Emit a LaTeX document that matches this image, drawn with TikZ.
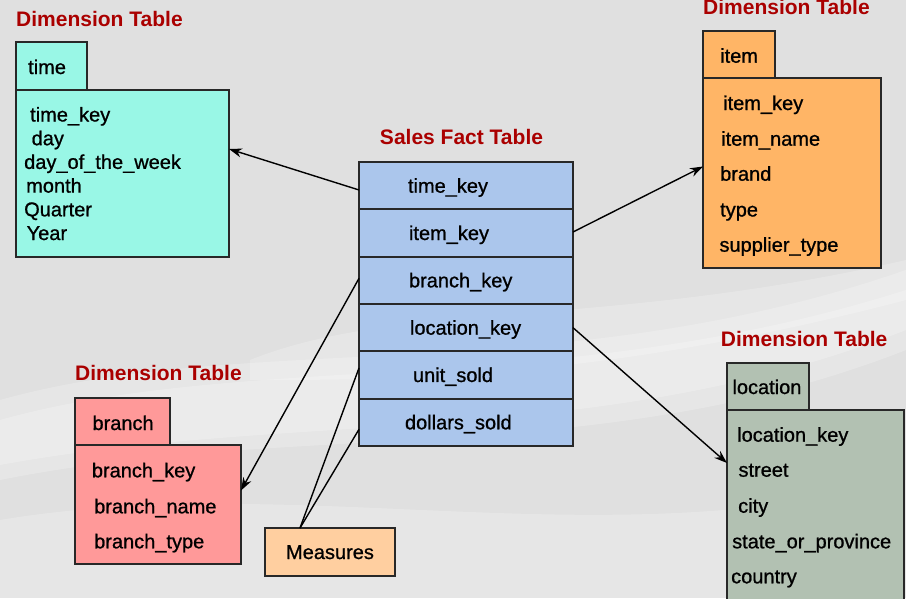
\documentclass[tikz,border=0pt]{standalone}
\usepackage{fontspec}
\setmainfont{Liberation Sans}
\newfontfamily\fieldfont[FakeBold=0.9]{Liberation Sans}
\usetikzlibrary{arrows.meta,positioning}
\usepackage{xcolor}
\definecolor{TimeFill}{RGB}{153,247,230}
\definecolor{FactFill}{RGB}{171,198,236}
\definecolor{ItemFill}{RGB}{255,181,102}
\definecolor{BranchFill}{RGB}{255,153,153}
\definecolor{LocFill}{RGB}{178,193,178}
\definecolor{MeasFill}{RGB}{255,207,160}
\definecolor{TitleRed}{RGB}{170,0,0}
\definecolor{EdgeGray}{RGB}{40,40,40}
\definecolor{BgGray}{RGB}{224,224,224}
\tikzset{
  tbox/.style={rectangle,draw=EdgeGray,line width=1.8pt,anchor=north west,
               inner sep=0pt,outer sep=0pt},
  ttitle/.style={anchor=base west,inner sep=0pt,text=TitleRed,
                 font=\fontsize{21}{24}\selectfont\bfseries},
  tfield/.style={anchor=base west,inner sep=0pt,font=\fontsize{20}{24}\fieldfont},
  frow/.style={rectangle,draw=EdgeGray,line width=1.8pt,fill=FactFill,outer sep=0pt,
               minimum width=214pt,minimum height=47.33pt,text width=116pt,
               inner xsep=49pt,text height=14pt,text depth=0pt,align=left,
               font=\fontsize{20}{24}\fieldfont},
  fkey/.style={-{Stealth[length=13pt,width=9pt]},line width=1.4pt,black},
  fline/.style={line width=1.4pt,black},
  swoosh/.style={white,opacity=0.22},
}

\begin{document}
\begin{tikzpicture}[x=1pt,y=-1pt]
  \clip (0,0) rectangle (906,598);
  \fill[BgGray] (0,0) rectangle (906,598);
  % soft background bands
  \fill[swoosh] (0,400) .. controls (250,330) and (560,390) .. (906,270)
    -- (906,350) .. controls (600,470) and (300,420) .. (0,480) -- cycle;
  \fill[swoosh] (0,420) .. controls (250,350) and (560,400) .. (906,290)
    -- (906,330) .. controls (600,450) and (300,410) .. (0,465) -- cycle;
  \fill[swoosh] (250,360) .. controls (400,300) and (600,330) .. (906,260)
    -- (906,300) .. controls (600,380) and (400,380) .. (250,380) -- cycle;
  \fill[swoosh] (0,520) .. controls (300,470) and (600,560) .. (906,480)
    -- (906,598) -- (0,598) -- cycle;
  %
  % time
  \node[ttitle] (ttime) at (16,26) {Dimension Table};
  \node[tbox,fill=TimeFill,minimum width=71pt,minimum height=48pt] (timetab) at (16,42) {};
  \node[tbox,fill=TimeFill,minimum width=213pt,minimum height=167pt] (timebody) at (16,90) {};
  \node[tfield] (timename) at (28,74) {time};
  \node[tfield] (time1) at (30,121.5) {time\_key};
  \node[tfield] (time2) at (31.5,145.2) {day};
  \node[tfield] (time3) at (24,168.9) {day\_of\_the\_week};
  \node[tfield] (time4) at (26,192.6) {month};
  \node[tfield] (time5) at (24,216.3) {Quarter};
  \node[tfield] (time6) at (26.5,240) {Year};
  %
  % item
  \node[ttitle] (titem) at (703,14) {Dimension Table};
  \node[tbox,fill=ItemFill,minimum width=72pt,minimum height=47pt] (itemtab) at (703,31) {};
  \node[tbox,fill=ItemFill,minimum width=178pt,minimum height=190pt] (itembody) at (703,78) {};
  \node[tfield] (itemname) at (720,62.7) {item};
  \node[tfield] (item1) at (723,110) {item\_key};
  \node[tfield] (item2) at (721,145.7) {item\_name};
  \node[tfield] (item3) at (720,180.7) {brand};
  \node[tfield] (item4) at (720,216.5) {type};
  \node[tfield] (item5) at (719.3,251.7) {supplier\_type};
  %
  % branch
  \node[ttitle] (tbranch) at (75,380.7) {Dimension Table};
  \node[tbox,fill=BranchFill,minimum width=95pt,minimum height=47pt] (branchtab) at (75,398) {};
  \node[tbox,fill=BranchFill,minimum width=166pt,minimum height=119pt] (branchbody) at (75,445) {};
  \node[tfield] (branchname) at (92.3,430) {branch};
  \node[tfield] (branch1) at (91.7,477.3) {branch\_key};
  \node[tfield] (branch2) at (94,513.3) {branch\_name};
  \node[tfield] (branch3) at (94,548.3) {branch\_type};
  %
  % location
  \node[ttitle] (tloc) at (720.7,346) {Dimension Table};
  \node[tbox,fill=LocFill,minimum width=82pt,minimum height=47pt] (loctab) at (727,363) {};
  \node[tbox,fill=LocFill,minimum width=177pt,minimum height=196pt] (locbody) at (727,410) {};
  \node[tfield] (locname) at (732.3,394) {location};
  \node[tfield] (loc1) at (737,441.7) {location\_key};
  \node[tfield] (loc2) at (738.3,476.7) {street};
  \node[tfield] (loc3) at (738,512.7) {city};
  \node[tfield] (loc4) at (732,548.3) {state\_or\_province};
  \node[tfield] (loc5) at (731,583.3) {country};
  %
  % fact table
  \node[ttitle,anchor=base] (tfact) at (461.5,144) {Sales Fact Table};
  \node[frow,anchor=north west] (f1) at (359,162) {time\_key};
  \node[frow,below=0pt of f1] (f2) {\hspace*{1pt}item\_key};
  \node[frow,below=0pt of f2] (f3) {\hspace*{1pt}branch\_key};
  \node[frow,below=0pt of f3] (f4) {\hspace*{2pt}location\_key};
  \node[frow,below=0pt of f4] (f5) {\hspace*{5pt}unit\_sold};
  \node[frow,below=0pt of f5] (f6) {\hspace*{-3pt}dollars\_sold};
  \node[tbox,fill=MeasFill,minimum width=130pt,minimum height=48pt,
        text height=14pt,text depth=0pt,font=\fontsize{20}{24}\fieldfont] (meas) at (265,528) {Measures};
  %
  \draw[fkey] ([yshift=-4.3pt]f1.west) -- ([yshift=24.5pt]timebody.east);
  \draw[fkey] ([yshift=1pt]f2.east) -- ([yshift=6.5pt]itembody.west);
  \draw[fkey] ([yshift=2pt]f3.west) -- ([yshift=14pt]branchbody.east);
  \draw[fkey] (f4.east) -- ([yshift=45pt]locbody.west);
  \draw[fline] ([xshift=-30pt]meas.north) -- ([yshift=7pt]f5.west);
  \draw[fline] ([xshift=-30pt]meas.north) -- ([yshift=-7pt]f6.west);
\end{tikzpicture}
\end{document}
